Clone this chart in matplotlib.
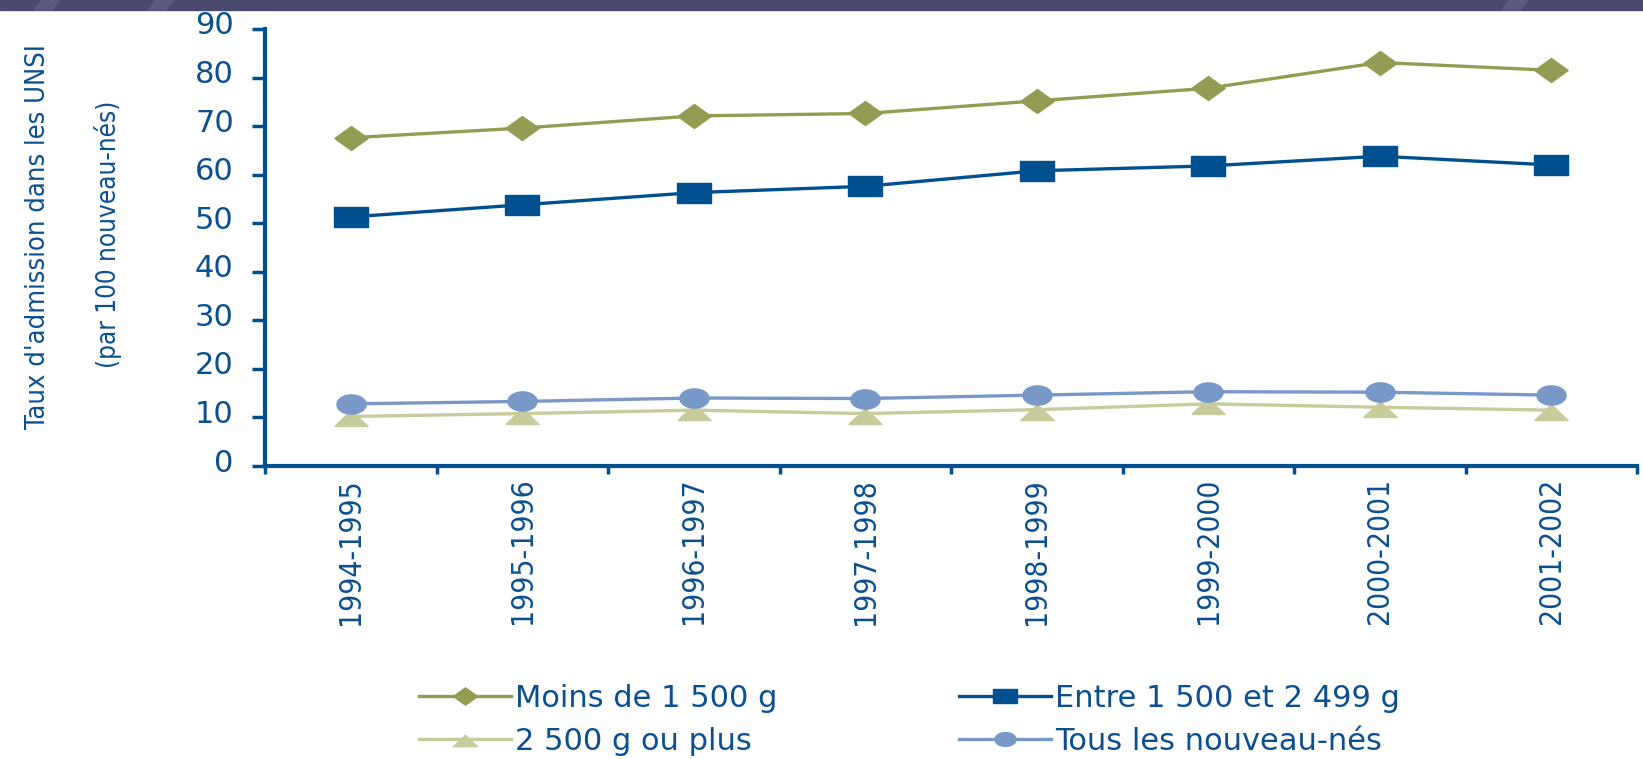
import numpy as np
import matplotlib
matplotlib.use("Agg")
import matplotlib.pyplot as plt
import matplotlib.font_manager as fm
import matplotlib.transforms as mtransforms
from matplotlib.patches import Rectangle, Polygon
from matplotlib.ticker import FixedLocator, NullFormatter

# data
periods = ["1994-1995", "1995-1996", "1996-1997", "1997-1998",
           "1998-1999", "1999-2000", "2000-2001", "2001-2002"]
moins_1500 = [67.6, 69.6, 72.1, 72.6, 75.2, 77.8, 83.1, 81.5]
entre_1500_2499 = [51.3, 53.8, 56.3, 57.6, 60.8, 61.8, 63.8, 62.0]
plus_2500 = [10.2, 10.8, 11.5, 10.8, 11.6, 12.8, 12.1, 11.5]
tous = [12.8, 13.3, 14.0, 13.9, 14.6, 15.3, 15.2, 14.6]

labels = ["Moins de 1 500 g", "Entre 1 500 et 2 499 g",
          "2 500 g ou plus", "Tous les nouveau-nés"]

BLUE = "#00508f"
TXT = "#0b4f8f"


def find_narrow_font():
    # look for a condensed / narrow face, else fall back to Liberation Sans
    best = None
    for f in fm.fontManager.ttflist:
        key = (f.name + " " + f.fname).lower()
        if f.style != "normal" or f.weight not in (400, "normal", "regular", "book"):
            continue
        if "narrow" in key or "condensed" in key or str(f.stretch) in ("condensed", "semi-condensed"):
            if "bold" in key or "italic" in key or "oblique" in key:
                continue
            if best is None or "liberation" in key:
                best = f.fname
    if best:
        return fm.FontProperties(fname=best)
    return fm.FontProperties(family=["Liberation Sans", "DejaVu Sans"])


narrow = find_narrow_font()

# marker shapes (wide, since the source image is stretched sideways)
diamond_m = [(-1, 0), (0, 0.72), (1, 0), (0, -0.72), (-1, 0)]
square_m = [(-1, -0.6), (1, -0.6), (1, 0.6), (-1, 0.6), (-1, -0.6)]
tri_m = [(-1, -0.6), (1, -0.6), (0, 0.35), (-1, -0.6)]
t = np.linspace(0, 2 * np.pi, 41)
ellipse_m = list(zip(np.cos(t), 0.66 * np.sin(t)))

W, H = 1643, 759
fig = plt.figure(figsize=(W / 100, H / 100), dpi=100, facecolor="white")

# dark banner on top
fig.patches.append(Rectangle((0, 1 - 10 / H), 1, 10 / H, transform=fig.transFigure,
                             color="#4a4a6e", zorder=0))
for x0 in [42, 156, 1510]:
    fig.patches.append(Polygon([(x0 / W, 1), ((x0 + 18) / W, 1),
                                ((x0 + 10) / W, 1 - 10 / H), ((x0 - 8) / W, 1 - 10 / H)],
                               closed=True, transform=fig.transFigure,
                               color="#5b5b82", zorder=1))

ax = fig.add_axes([265 / W, 1 - 466 / H, (1637 - 265) / W, (466 - 29) / H])
x = np.arange(len(periods))

ax.plot(x, moins_1500, color="#939c52", lw=2.4, marker=diamond_m, ms=24,
        label=labels[0], zorder=3)
ax.plot(x, entre_1500_2499, color=BLUE, lw=2.4, marker=square_m, ms=24,
        label=labels[1], zorder=3)
ax.plot(x, plus_2500, color="#c8cc9c", lw=2.4, marker=tri_m, ms=24,
        label=labels[2], zorder=3)
ax.plot(x, tous, color="#7898c8", lw=2.4, marker=ellipse_m, ms=21,
        label=labels[3], zorder=4)

ax.set_xlim(-0.5, len(periods) - 0.5)
ax.set_ylim(0, 90)
ax.set_yticks(range(0, 91, 10))

ax.xaxis.set_major_locator(FixedLocator(np.arange(-0.5, len(periods), 1.0)))
ax.xaxis.set_major_formatter(NullFormatter())
ax.set_xticks(x, minor=True)
xlabs = ax.set_xticklabels(periods, minor=True, rotation=90, color=TXT, va="top")
ax.tick_params(axis="x", which="minor", length=0, pad=8.5)
ax.tick_params(axis="x", which="major", direction="out", length=5.5, width=2.5,
               color=BLUE)
ax.tick_params(axis="y", direction="out", length=9.5, width=2.5, color=BLUE,
               labelsize=22, labelcolor=TXT, pad=13)

# the y tick labels sit a little above their ticks in the reference
shift = mtransforms.ScaledTranslation(0, 6 / 100, fig.dpi_scale_trans)
for lab in ax.get_yticklabels():
    lab.set_transform(lab.get_transform() + shift)

for s in ["top", "right"]:
    ax.spines[s].set_visible(False)
for s in ["left", "bottom"]:
    ax.spines[s].set_color(BLUE)
    ax.spines[s].set_linewidth(3)

# y label, two lines
yl1 = fig.text(38 / W, 1 - 237 / H, "Taux d'admission dans les UNSI", rotation=90,
               ha="center", va="center", color=TXT)
yl2 = fig.text(108 / W, 1 - 234 / H, "(par 100 nouveau-nés)", rotation=90,
               ha="center", va="center", color=TXT)

# legend, two columns placed separately
h, l = ax.get_legend_handles_labels()
for idx, xpos in [((0, 2), 419), ((1, 3), 959)]:
    fig.legend([h[i] for i in idx], [l[i] for i in idx],
               loc="upper left", bbox_to_anchor=(xpos / W, 1 - 684 / H),
               frameon=False, fontsize=22, handlelength=3.0,
               handletextpad=0.15, labelspacing=0.45, borderpad=0,
               borderaxespad=0, markerscale=0.72, labelcolor=TXT)

# size the rotated narrow texts so that their length matches the reference
fig.canvas.draw()
renderer = fig.canvas.get_renderer()


def fit_length(txt, target_px, start=24):
    fp = narrow.copy()
    fp.set_size(start)
    txt.set_fontproperties(fp)
    ext = txt.get_window_extent(renderer)
    length = max(ext.width, ext.height)
    fp.set_size(start * target_px / length)
    txt.set_fontproperties(fp)


fit_length(yl1, 385)
fit_length(yl2, 268)
for lab in xlabs:
    fit_length(lab, 147)

fig.savefig("out.png", dpi=100, facecolor="white")
